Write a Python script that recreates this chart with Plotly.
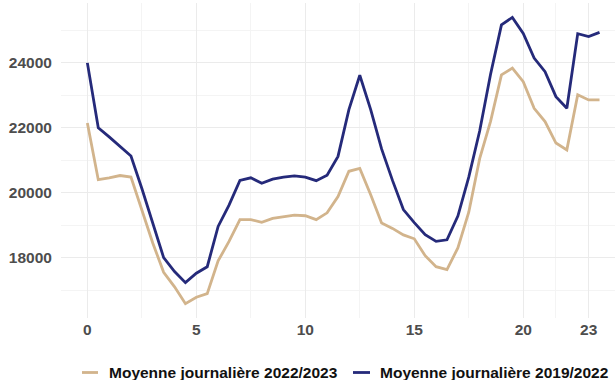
import plotly.graph_objects as go

hours = [0, 0.5, 1, 1.5, 2, 2.5, 3, 3.5, 4, 4.5, 5, 5.5, 6, 6.5, 7, 7.5, 8, 8.5, 9, 9.5,
         10, 10.5, 11, 11.5, 12, 12.5, 13, 13.5, 14, 14.5, 15, 15.5, 16, 16.5, 17, 17.5,
         18, 18.5, 19, 19.5, 20, 20.5, 21, 21.5, 22, 22.5, 23, 23.5]

moy_2022_2023 = [22150, 20400, 20460, 20530, 20480, 19500, 18450, 17550, 17100, 16580,
                 16780, 16890, 17900, 18500, 19170, 19170, 19090, 19210, 19260, 19310,
                 19290, 19170, 19380, 19880, 20660, 20750, 19940, 19070, 18900, 18700,
                 18580, 18060, 17720, 17630, 18300, 19400, 21050, 22200, 23630, 23840,
                 23420, 22600, 22190, 21530, 21320, 23020, 22860, 22860]

moy_2019_2022 = [24000, 22000, 21720, 21430, 21130, 20130, 19050, 18000, 17570, 17230,
                 17520, 17720, 18960, 19620, 20380, 20460, 20290, 20420, 20480, 20520,
                 20480, 20370, 20540, 21120, 22560, 23620, 22560, 21350, 20380, 19480,
                 19080, 18710, 18500, 18550, 19280, 20480, 21900, 23650, 25170, 25400,
                 24910, 24150, 23730, 22960, 22600, 24900, 24810, 24940]

series_names = ["Moyenne journalière 2022/2023", "Moyenne journalière 2019/2022"]
series_colors = ["#D2B48C", "#252A7A"]

x_ticks = [0, 5, 10, 15, 20, 23]
x_minor = [2.5, 7.5, 12.5, 17.5, 21.5]
y_ticks = [18000, 20000, 22000, 24000]
y_minor = [17000, 19000, 21000, 23000, 25000]

FONT = "Liberation Sans, Arial, sans-serif"

fig = go.Figure()
for name, vals, col in zip(series_names, [moy_2022_2023, moy_2019_2022], series_colors):
    fig.add_trace(go.Scatter(x=hours, y=vals, mode="lines", name=name,
                             line=dict(color=col, width=2.8), showlegend=False))

W, H = 615, 380
ml, mr, mt, mb = 61, 0, 3, 62
pw, ph = W - ml - mr, H - mt - mb

def px2paper_x(px):
    return (px - ml) / pw

def py2paper_y(py):
    return (H - mb - py) / ph

legend_y = 372.5
keys = [(82, 98, 107), (353, 370, 378)]
for (k0, k1, tx), name, col in zip(keys, series_names, series_colors):
    fig.add_shape(type="line", xref="paper", yref="paper",
                  x0=px2paper_x(k0), x1=px2paper_x(k1),
                  y0=py2paper_y(legend_y), y1=py2paper_y(legend_y),
                  line=dict(color=col, width=2.8))
    fig.add_annotation(xref="paper", yref="paper", x=px2paper_x(tx), y=py2paper_y(legend_y),
                       xanchor="left", yanchor="middle", showarrow=False, text=name,
                       font=dict(family=FONT, size=15.5, color="#111111", weight="bold"))

fig.update_layout(
    width=W, height=H,
    margin=dict(l=ml, r=mr, t=mt, b=mb),
    paper_bgcolor="white", plot_bgcolor="white",
    showlegend=False,
    xaxis=dict(range=[-1.21, 24.21], tickmode="array", tickvals=x_ticks,
               ticktext=[str(v) for v in x_ticks],
               showgrid=True, gridcolor="#ebebeb", gridwidth=1,
               zeroline=False, showline=False, ticks="",
               tickfont=dict(family=FONT, size=15.5, color="#4d4d4d", weight="bold"),
               minor=dict(tickmode="array", tickvals=x_minor, showgrid=True,
                          gridcolor="#f4f4f4", gridwidth=1, ticks="")),
    yaxis=dict(range=[16140, 25845], tickmode="array", tickvals=y_ticks,
               ticktext=[str(v) for v in y_ticks],
               showgrid=True, gridcolor="#ebebeb", gridwidth=1,
               zeroline=False, showline=False,
               ticks="outside", ticklen=5, tickcolor="rgba(0,0,0,0)",
               tickfont=dict(family=FONT, size=15.5, color="#4d4d4d", weight="bold"),
               minor=dict(tickmode="array", tickvals=y_minor, showgrid=True,
                          gridcolor="#f4f4f4", gridwidth=1, ticks="")),
)

fig.write_html("out.html", config={"displayModeBar": False},
               post_script="document.body.style.margin='0';document.body.style.overflow='hidden';")
